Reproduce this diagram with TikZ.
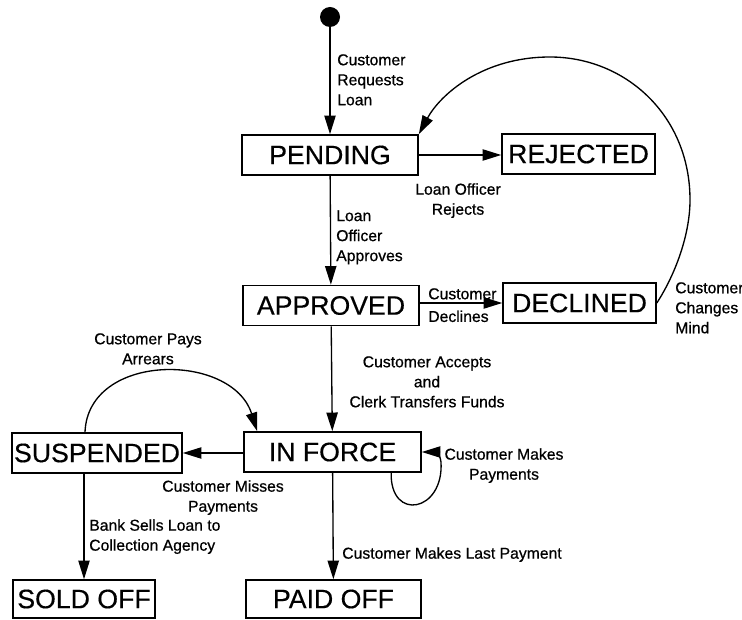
\documentclass[tikz,border=0pt]{standalone}
\usepackage{fontspec}
\setmainfont{Liberation Sans}
\newfontfamily\lblfont{Liberation Sans}[FakeBold=0.7]
\newfontfamily\statefont{Liberation Sans}[FakeBold=0.4]
\usetikzlibrary{arrows.meta}
\begin{document}
\begin{tikzpicture}[x=0.75pt, y=-0.75pt,
  state/.style={draw, line width=1.2pt, inner sep=0pt, minimum height=30pt,
    font=\statefont\fontsize{20}{24}\selectfont},
  lbl/.style={inner sep=0pt, font=\lblfont\fontsize{11.8}{15}\selectfont},
  tr/.style={line width=1pt, -{Triangle[length=14pt, width=8.5pt]}},
  dot/.style={circle, fill=black, inner sep=0pt, minimum size=15pt}]
\useasboundingbox (0,0) rectangle (742,620);

% states
\node[dot] (start) at (330,17) {};
\node[state, minimum width=132pt] (pend) at (330,155) {PENDING};
\node[state, minimum width=114.75pt] (rej) at (578.5,154) {REJECTED};
\node[state, minimum width=132pt] (appr) at (331,305.5) {APPROVED};
\node[state, minimum width=114.75pt] (decl) at (579.5,303) {DECLINED};
\node[state, minimum width=132.75pt] (inf) at (332.5,452) {IN FORCE};
\node[state, minimum width=127.5pt] (susp) at (97,453) {SUSPENDED};
\node[state, minimum width=106.5pt, minimum height=28.5pt] (sold) at (84,599) {SOLD OFF};
\node[state, minimum width=131.25pt, minimum height=28.5pt] (paid) at (333.5,599) {PAID OFF};

% transitions
\draw[tr] (start) -- (pend);
\draw[tr] (pend.east) -- (pend.east -| rej.west);
\draw[tr] (pend) -- (appr);
\draw[tr] (appr.east |- decl.west) -- (decl.west);
\draw[tr] (appr) -- (inf);
\draw[tr] (inf.west |- susp.east) -- (susp.east);
\draw[tr] (sold.north |- susp.south) -- (sold.north);
\draw[tr] (inf) -- (paid);

% customer changes mind: back from DECLINED to PENDING
\draw[tr] (decl.east) .. controls (675,275) and (690,235) .. (690,200)
  .. controls (690,115) and (625,57) .. (550,57)
  .. controls (482,57) and (440,95) .. (pend.north east);

% customer pays arrears
\draw[tr] ([xshift=-9pt]susp.north) .. controls (88,352) and (232,352) .. ([xshift=10.5pt]inf.north west);

% customer makes payments (self loop)
\draw[tr] ([xshift=44pt]inf.south) .. controls (390,522) and (444,512) .. (441,462)
  .. controls (440,453) and (434,452) .. (inf.east);

% labels
\node[lbl, anchor=north west, align=left] at (337,54) {Customer\\Requests\\Loan};
\node[lbl, anchor=north, align=center] at (458,183) {Loan Officer\\Rejects};
\node[lbl, anchor=north west, align=left] at (336,210) {Loan\\Officer\\Approves};
\node[lbl, anchor=north west, align=left, font=\lblfont\fontsize{11.8}{17}\selectfont] at (428,288) {Customer\\Declines};
\node[lbl, anchor=north west, align=left] at (675,282) {Customer\\Changes\\Mind};
\node[lbl, anchor=north, align=center] at (148,333) {Customer Pays\\Arrears};
\node[lbl, anchor=north, align=center] at (427,356) {Customer Accepts\\and\\Clerk Transfers Funds};
\node[lbl, anchor=north, align=center] at (504,448) {Customer Makes\\Payments};
\node[lbl, anchor=north, align=center] at (223,480) {Customer Misses\\Payments};
\node[lbl, anchor=north west, align=left] at (89,519) {Bank Sells Loan to\\Collection Agency};
\node[lbl, anchor=north west] at (342,547) {Customer Makes Last Payment};
\end{tikzpicture}
\end{document}
